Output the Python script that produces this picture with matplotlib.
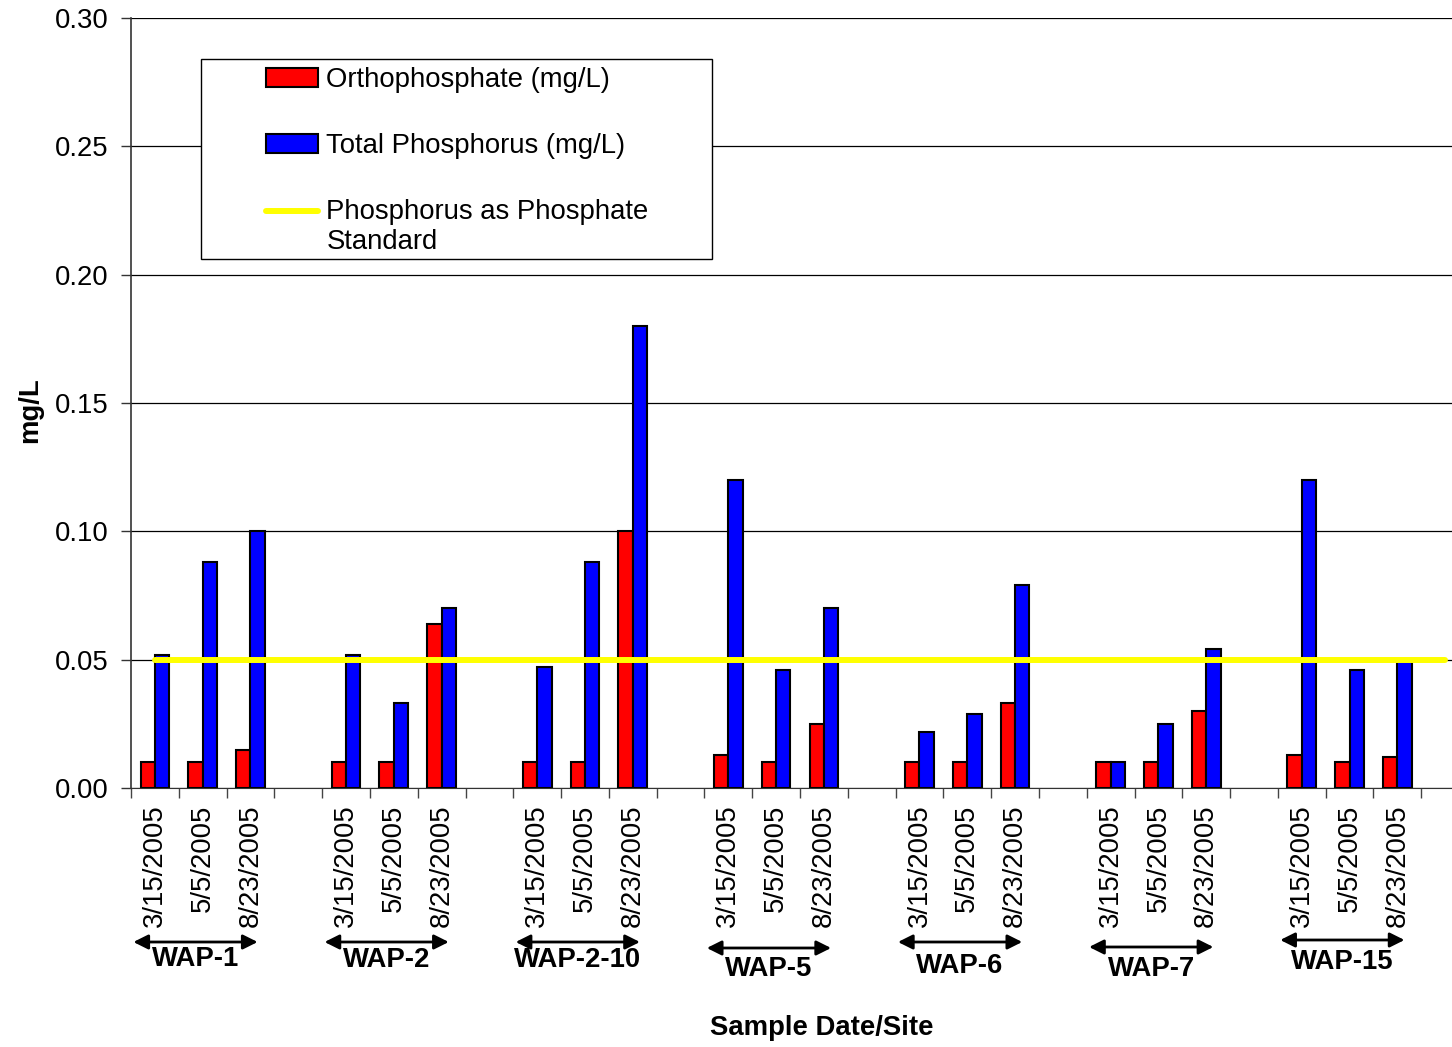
import numpy as np
import matplotlib
matplotlib.use("Agg")
import matplotlib.pyplot as plt
from matplotlib.patches import Rectangle, Patch
from matplotlib.lines import Line2D
from matplotlib.legend_handler import HandlerLine2D
from matplotlib import transforms

# data
sites = ["WAP-1", "WAP-2", "WAP-2-10", "WAP-5", "WAP-6", "WAP-7", "WAP-15"]
dates = ["3/15/2005", "5/5/2005", "8/23/2005"]
ortho = [0.010, 0.010, 0.015,
         0.010, 0.010, 0.064,
         0.010, 0.010, 0.100,
         0.013, 0.010, 0.025,
         0.010, 0.010, 0.033,
         0.010, 0.010, 0.030,
         0.013, 0.010, 0.012]
total_p = [0.052, 0.088, 0.100,
           0.052, 0.033, 0.070,
           0.047, 0.088, 0.180,
           0.120, 0.046, 0.070,
           0.022, 0.029, 0.079,
           0.010, 0.025, 0.054,
           0.120, 0.046, 0.050]
standard = 0.05
y_ticks = [0.00, 0.05, 0.10, 0.15, 0.20, 0.25, 0.30]

plt.rcParams['font.family'] = ['Liberation Sans', 'DejaVu Sans']
FS = 19.8


class FirstLineHandler(HandlerLine2D):
    # put the legend line next to the first line of a two-line label
    def create_artists(self, legend, orig_handle, xdescent, ydescent,
                       width, height, fontsize, trans):
        arts = super().create_artists(legend, orig_handle, xdescent, ydescent,
                                      width, height, fontsize, trans)
        for a in arts:
            a.set_ydata(np.asarray(a.get_ydata()) + 0.58 * fontsize)
        return arts


fig = plt.figure(figsize=(14.52, 10.47), dpi=100)
# plot area runs past the right edge, like the cropped original
ax = fig.add_axes([131 / 1452, 1 - 788 / 1047, 1338 / 1452, 770 / 1047])

n_slots = 4 * len(sites)
x = np.array([g * 4 + k for g in range(len(sites)) for k in range(len(dates))])

ax.bar(x - 0.15, ortho, width=0.30, color="#FF0000", edgecolor="black",
       linewidth=1.5, zorder=3)
ax.bar(x + 0.15, total_p, width=0.30, color="#0000FF", edgecolor="black",
       linewidth=1.5, zorder=3)
slots = np.arange(n_slots)
ax.plot(slots, np.full(n_slots, standard), color="#FFFF00", lw=4.3,
        solid_capstyle="round", zorder=4)

ax.set_xlim(-0.5, n_slots - 0.5)
ax.set_ylim(0, 0.30)
ax.set_yticks(y_ticks)
ax.set_yticklabels([f"{v:.2f}" for v in y_ticks], fontsize=FS)
ax.yaxis.grid(True, color="black", lw=0.9, zorder=0)
ax.set_axisbelow(True)
ax.tick_params(axis="y", length=7, width=1, pad=9, color="#333333")

# category boundaries get the ticks, labels sit at the centres
ax.set_xticks(np.arange(n_slots + 1) - 0.5)
ax.set_xticklabels([])
ax.set_xticks(slots, minor=True)
slot_labels = [dates[i % 4] if i % 4 < 3 else "" for i in range(n_slots)]
ax.set_xticklabels(slot_labels, minor=True, rotation=90, fontsize=FS, va="top")
ax.tick_params(axis="x", which="major", length=7, width=1, color="#444444")
ax.tick_params(axis="x", which="minor", length=0, pad=12)

for s in ["top", "right"]:
    ax.spines[s].set_visible(False)
ax.spines["left"].set_color("#333333")
ax.spines["bottom"].set_color("#333333")
ax.spines["left"].set_linewidth(1.2)

# legend box
ax.add_patch(Rectangle((70 / 1338, 529 / 770), 511 / 1338, 200 / 770,
                       transform=ax.transAxes, facecolor="white",
                       edgecolor="black", lw=1, zorder=5))
handles = [Patch(facecolor="#FF0000", edgecolor="black", lw=1.5),
           Patch(facecolor="#0000FF", edgecolor="black", lw=1.5),
           Line2D([], [], color="#FFFF00", lw=4.3, solid_capstyle="round")]
labels = ["Orthophosphate (mg/L)", "Total Phosphorus (mg/L)",
          "Phosphorus as Phosphate\nStandard"]
leg = ax.legend(handles, labels, loc="upper left",
                bbox_to_anchor=(135 / 1338, 721 / 770), frameon=False,
                fontsize=FS, borderpad=0, borderaxespad=0, labelspacing=1.45,
                handlelength=1.9, handleheight=0.7, handletextpad=0.3,
                handler_map={Line2D: FirstLineHandler()})
leg.set_zorder(6)

# site brackets under the date labels (hand placed in the original)
trans = transforms.blended_transform_factory(ax.transData, fig.transFigure)
arrow_y = [942, 942, 942, 948, 942, 947, 940]
name_y = [959, 960, 960, 969, 966, 969, 962]
for g, site in enumerate(sites):
    x0 = g * 4 - 0.45
    x1 = g * 4 + 2.15
    ya = 1 - arrow_y[g] / 1047
    ax.annotate("", xy=(x0, ya), xytext=(x1, ya), xycoords=trans,
                textcoords=trans,
                arrowprops=dict(arrowstyle="<|-|>", color="black", lw=2,
                                mutation_scale=22, shrinkA=0, shrinkB=0),
                annotation_clip=False)
    fig.text(0, 0, site, transform=trans, fontsize=FS, fontweight="bold",
             ha="center", va="center").set_position(
        ((x0 + x1) / 2, 1 - name_y[g] / 1047))

fig.text(30 / 1452, 1 - 410 / 1047, "mg/L", rotation=90, fontsize=FS,
         fontweight="bold", ha="center", va="center")
fig.text(822 / 1452, 1 - 1028 / 1047, "Sample Date/Site", fontsize=FS,
         fontweight="bold", ha="center", va="center")

fig.savefig("out.png", dpi=100)
